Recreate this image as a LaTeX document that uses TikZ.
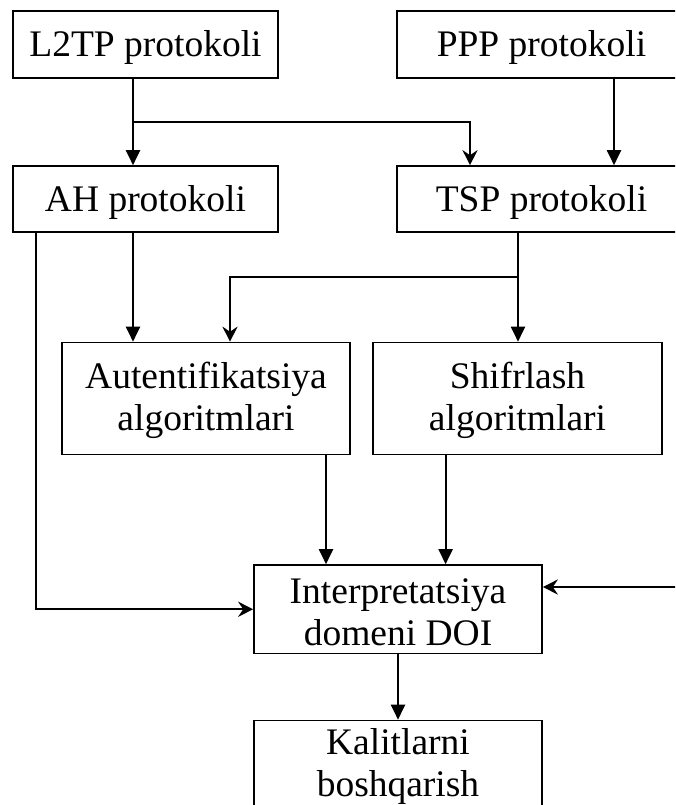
\documentclass[tikz,border=0pt]{standalone}
\usepackage{fontspec}
\setmainfont{Liberation Serif}
\usetikzlibrary{arrows.meta}
\begin{document}
\begin{tikzpicture}[x=1pt,y=-1pt,
  font=\fontsize{37.5pt}{42pt}\selectfont,
  bx/.style={draw, line width=1.6pt, inner sep=0pt},
  tx/.style={anchor=base, inner sep=0pt},
  fa/.style={line width=2pt, -{Triangle[length=15pt,width=14pt]}},
  sa/.style={line width=2pt, -{Stealth[length=15pt,width=15pt,inset=5pt]}}]
\fill[white] (0,0) rectangle (675,805);
\useasboundingbox (0,0) rectangle (675,805);
\clip (0,0) rectangle (675,805);
% boxes
\node[bx, minimum width=265pt, minimum height=67pt] (l2tp) at (145.5,44.5) {};
\node[bx, minimum width=289pt, minimum height=67pt] (ppp) at (541.5,44.5) {};
\node[bx, minimum width=265pt, minimum height=66pt] (ah) at (145.5,199) {};
\node[bx, minimum width=289pt, minimum height=66pt] (tsp) at (541.5,199) {};
\node[bx, minimum width=288pt, minimum height=112pt] (auth) at (206,398.5) {};
\node[bx, minimum width=289pt, minimum height=112pt] (shifr) at (517.5,398.5) {};
\node[bx, minimum width=288pt, minimum height=88.5pt] (doi) at (398,609.25) {};
\node[bx, minimum width=288pt, minimum height=88.5pt] (kal) at (398,764.75) {};
% texts
\node[tx] (l2tpT) at (145.5,56.7) {L2TP protokoli};
\node[tx] (pppT) at (541.5,56.7) {PPP protokoli};
\node[tx] (ahT) at (145.5,211.7) {AH protokoli};
\node[tx] (tspT) at (541.5,211.7) {TSP protokoli};
\node[tx] (authT) at (206,388.3) {\parbox[t]{285pt}{\centering Autentifikatsiya\\algoritmlari}};
\node[tx] (shifrT) at (517.5,388.3) {\parbox[t]{285pt}{\centering Shifrlash\\algoritmlari}};
\node[tx] (doiT) at (398,603.3) {\parbox[t]{285pt}{\centering Interpretatsiya\\domeni DOI}};
\node[tx] (kalT) at (398,754.5) {\parbox[t]{285pt}{\centering Kalitlarni\\boshqarish}};
% junctions
\coordinate (j1) at (133,122);
\coordinate (j2) at (470,122);
\coordinate (xp) at (614,0);
\coordinate (j3) at (518,277);
\coordinate (j4) at (230,277);
\coordinate (xa) at (326,0);
\coordinate (xs) at (445.6,0);
\coordinate (j5) at (36,0);
\coordinate (rin) at (690,587);
% connectors
\draw[fa] (j1 |- l2tp.south) -- (j1 |- ah.north);
\draw[sa] (j1) -- (j2) -- (j2 |- tsp.north);
\draw[fa] (xp |- ppp.south) -- (xp |- tsp.north);
\draw[fa] (j1 |- ah.south) -- (j1 |- auth.north);
\draw[fa] (j3 |- tsp.south) -- (j3 |- shifr.north);
\draw[sa] (j3) -- (j4) -- (j4 |- auth.north);
\draw[fa] (xa |- auth.south) -- (xa |- doi.north);
\draw[fa] (xs |- shifr.south) -- (xs |- doi.north);
\draw[sa] (j5 |- ah.south) -- (j5 |- doi.west) -- (doi.west);
\draw[sa] (rin) -- (rin -| doi.east);
\draw[fa] (doi.south) -- (kal.north);
\end{tikzpicture}
\end{document}
